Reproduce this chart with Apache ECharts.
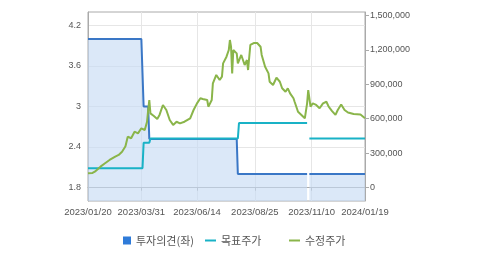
<!DOCTYPE html>
<html><head><meta charset="utf-8">
<script src="https://cdn.jsdelivr.net/npm/echarts@6/dist/echarts.min.js"></script>
<style>html,body{margin:0;padding:0;background:#fff}#c{width:479px;height:255px}</style>
</head><body><div id="c"></div>
<script>
// Trading calendar (KRX), 2023/01/20 - 2024/01/19
const startDay = '2023-01-20';
const endDay = '2024-01-19';
const holidays = ['2023-01-23','2023-01-24','2023-03-01','2023-05-01','2023-05-05','2023-05-29','2023-06-06',
  '2023-08-15','2023-09-28','2023-09-29','2023-10-02','2023-10-03','2023-10-09','2023-12-25','2023-12-29','2024-01-01'];
const xTickLabels = ['2023/01/20','2023/03/31','2023/06/14','2023/08/25','2023/11/10','2024/01/19'];
const leftTicks = [1.8, 2.4, 3, 3.6, 4.2];
const rightTicks = [0, 300000, 600000, 900000, 1200000, 1500000];

// 투자의견(좌): [trading-day index], [value]
const opinionIdx = [0, 47, 48, 49, 53, 54, 131, 132, 193, 194, 195, 244];
const opinionVal = [4.0, 4.0, 3.5, 3.0, 3.0, 2.52, 2.52, 2.0, 2.0, null, 2.0, 2.0];

// 목표주가
const targetIdx = [0, 48, 49, 54, 55, 132, 133, 193, 194, 195, 244];
const targetVal = [170000, 170000, 390000, 390000, 428000, 428000, 563000, 563000, null, 428000, 428000];

// 수정주가
const priceIdx = [0,4,6,11,15,19,24,27,30,33,35,38,41,44,47,50,52,53,54,55,58,61,63,66,69,72,75,78,81,85,90,93,96,99,101,105,106,109,110,113,116,118,119,122,124,125,126,127,128,131,132,135,138,140,141,143,146,149,152,153,156,159,160,163,166,169,171,174,176,178,181,182,185,188,191,193,194,196,198,201,204,207,210,212,215,218,220,223,226,229,234,240,244];
const priceVal = [125000,128000,139000,183000,212000,241000,270000,285000,313000,360000,444000,430000,487000,473000,517000,502000,574000,676000,763000,647000,624000,598000,633000,720000,676000,589000,546000,574000,560000,574000,604000,676000,734000,778000,772000,763000,705000,763000,908000,981000,937000,966000,1082000,1140000,1198000,1285000,1227000,995000,1198000,1169000,1082000,1155000,1068000,1111000,1024000,1242000,1259000,1259000,1227000,1155000,1053000,995000,922000,894000,957000,922000,865000,835000,865000,821000,778000,748000,661000,633000,604000,734000,850000,705000,734000,720000,691000,734000,748000,705000,667000,633000,676000,724000,676000,654000,641000,637000,604000];

function tradingDays() {
  const out = [];
  const hs = new Set(holidays);
  const d = new Date(startDay + 'T00:00:00Z');
  const end = new Date(endDay + 'T00:00:00Z');
  while (d <= end) {
    const wd = d.getUTCDay();
    const iso = d.toISOString().slice(0, 10);
    if (wd !== 0 && wd !== 6 && !hs.has(iso)) out.push(iso.replace(/-/g, '/'));
    d.setUTCDate(d.getUTCDate() + 1);
  }
  return out;
}
const categories = tradingDays();
const pairs = (idx, val) => idx.map((i, k) => [i, val[k] === null ? '-' : val[k]]);
const labelSet = new Set(xTickLabels);
const showAt = (index, value) => labelSet.has(value);
const fmt = v => String(v).replace(/\B(?=(\d{3})+(?!\d))/g, ',');

const axisColor = '#aaaaaa';
const gridColor = '#e6e6e6';
const textColor = '#555555';
const legendText = { color: textColor, fontSize: 11, fontFamily: 'Noto Sans CJK KR' };

const chart = echarts.init(document.getElementById('c'));
chart.setOption({
  animation: false,
  grid: { left: 88, right: 114, top: 12, bottom: 54, show: true, borderColor: axisColor, borderWidth: 1,
          outerBoundsMode: 'none' },
  legend: [
    { left: 118, top: 230, itemWidth: 8, itemHeight: 8, textStyle: legendText, selectedMode: false,
      data: [{ name: '투자의견(좌)', icon: 'rect', itemStyle: { color: '#2f7bd9', borderWidth: 0 } }] },
    { left: 200, top: 230, itemWidth: 11, itemHeight: 2, textStyle: legendText, selectedMode: false,
      data: [{ name: '목표주가', icon: 'rect', itemStyle: { color: '#19b2c6', borderWidth: 0 } }] },
    { left: 284, top: 230, itemWidth: 11, itemHeight: 2, textStyle: legendText, selectedMode: false,
      data: [{ name: '수정주가', icon: 'rect', itemStyle: { color: '#8ab54a', borderWidth: 0 } }] }
  ],
  xAxis: {
    type: 'category', data: categories, boundaryGap: false,
    axisLine: { lineStyle: { color: axisColor } },
    axisTick: { show: true, length: 3, interval: showAt, lineStyle: { color: axisColor } },
    axisLabel: { interval: showAt, color: textColor, fontSize: 9.5, fontFamily: 'Liberation Sans', margin: 6 },
    splitLine: { show: true, interval: showAt, lineStyle: { color: gridColor } }
  },
  yAxis: [
    {
      type: 'value', position: 'left', min: 1.6, max: 4.4,
      axisLine: { show: true, lineStyle: { color: axisColor } },
      axisTick: { show: false, customValues: leftTicks },
      axisLabel: { customValues: leftTicks, color: textColor, fontSize: 9, fontFamily: 'Liberation Sans', margin: 7 },
      splitLine: { show: true, lineStyle: { color: gridColor } }
    },
    {
      type: 'value', position: 'right', min: -116000, max: 1529000,
      axisLine: { show: true, lineStyle: { color: axisColor } },
      axisTick: { show: true, length: 4, customValues: rightTicks, lineStyle: { color: axisColor } },
      axisLabel: { customValues: rightTicks, formatter: fmt, color: textColor, fontSize: 9, fontFamily: 'Liberation Sans', margin: 5 },
      splitLine: { show: false }
    }
  ],
  series: [
    { name: '투자의견(좌)', type: 'line', yAxisIndex: 0, data: pairs(opinionIdx, opinionVal),
      symbol: 'none', connectNulls: false, z: 1,
      itemStyle: { color: '#2f7bd9' },
      lineStyle: { color: '#3a77c6', width: 2 },
      areaStyle: { color: '#c5daf3', opacity: 0.62 } },
    { name: '목표주가', type: 'line', yAxisIndex: 1, data: pairs(targetIdx, targetVal),
      symbol: 'none', connectNulls: false, z: 2,
      itemStyle: { color: '#19b2c6' }, lineStyle: { color: '#19b2c6', width: 2 } },
    { name: '수정주가', type: 'line', yAxisIndex: 1, data: pairs(priceIdx, priceVal),
      symbol: 'none', z: 3,
      itemStyle: { color: '#8ab54a' }, lineStyle: { color: '#8ab54a', width: 2 } }
  ]
});
</script></body></html>
